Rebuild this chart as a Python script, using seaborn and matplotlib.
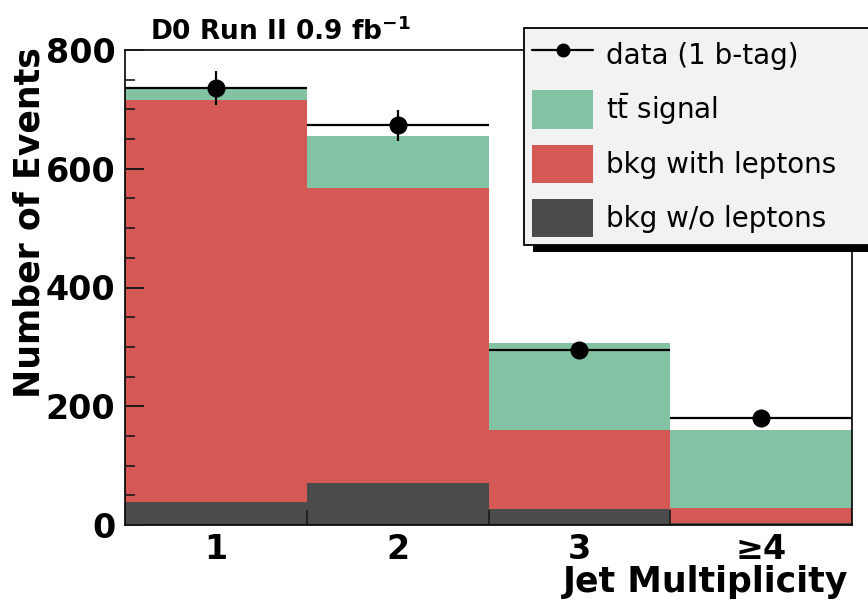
import numpy as np
import pandas as pd
import matplotlib
matplotlib.use("Agg")
import matplotlib.pyplot as plt
from matplotlib.patches import Rectangle, Patch
from matplotlib.lines import Line2D
from matplotlib.ticker import MultipleLocator, FixedLocator
import seaborn as sns

# ---------------- data ----------------
jet_bins = [1, 2, 3, 4]
jet_labels = ["1", "2", "3", "\u22654"]
bkg_wo_leptons = [39, 70, 27, 3]
bkg_with_leptons = [677, 498, 133, 26]
ttbar_signal = [19, 88, 146, 131]
data_counts = [736, 673, 294, 180]
data_err = [28, 26, 14, 12]

comp_names = ["t$\\bar{t}$ signal", "bkg with leptons", "bkg w/o leptons"]
comp_colors = ["#84c2a4", "#d45854", "#4b4b4b"]

# long-form table for seaborn
rows = []
for name, vals in zip(comp_names, [ttbar_signal, bkg_with_leptons, bkg_wo_leptons]):
    for b, v in zip(jet_bins, vals):
        rows.append({"jet": b, "events": v, "component": name})
df = pd.DataFrame(rows)

# ---------------- style ----------------
sns.set_style("white")
plt.rcParams["font.family"] = ["DejaVu Sans"]
plt.rcParams["mathtext.default"] = "regular"
plt.rcParams["text.color"] = "black"
plt.rcParams["axes.labelcolor"] = "black"
plt.rcParams["xtick.color"] = "black"
plt.rcParams["ytick.color"] = "black"

fig = plt.figure(figsize=(8.68, 6.01), dpi=100)
ax = fig.add_axes([125 / 868, 1 - 525 / 601, 727 / 868, 475 / 601])
ax.set_axisbelow(False)

sns.histplot(
    data=df, x="jet", weights="events", hue="component",
    hue_order=comp_names, palette=dict(zip(comp_names, comp_colors)),
    multiple="stack", discrete=True, shrink=1.0, element="bars",
    linewidth=0, alpha=1, legend=False, ax=ax,
)

ax.errorbar(
    jet_bins, data_counts, xerr=0.5, yerr=data_err, fmt="o", color="black",
    markersize=12, elinewidth=1.6, capsize=0, zorder=5,
)

ax.set_xlim(0.5, 4.5)
ax.set_ylim(0, 800)

# ticks
ax.set_xticks(jet_bins)
ax.set_xticklabels(jet_labels)
ax.xaxis.set_minor_locator(FixedLocator([1.5, 2.5, 3.5]))
ax.tick_params(axis="x", which="major", length=0, pad=6, labelsize=24,
               colors="black")
ax.tick_params(axis="x", which="minor", direction="in", length=11, width=1.2,
               bottom=True, top=False, colors="#1a1a1a")
ax.yaxis.set_major_locator(MultipleLocator(200))
ax.yaxis.set_minor_locator(MultipleLocator(50))
ax.tick_params(axis="y", which="major", direction="in", length=14, width=1.4,
               left=True, right=False, pad=7, labelsize=24, colors="#1a1a1a",
               labelcolor="black")
ax.tick_params(axis="y", which="minor", direction="in", length=7, width=1.2,
               left=True, right=False, colors="#1a1a1a")
for lab in ax.get_xticklabels() + ax.get_yticklabels():
    lab.set_fontweight("bold")

for sp in ax.spines.values():
    sp.set_color("black")
    sp.set_linewidth(1.2)

ax.set_ylabel("Number of Events", fontsize=25, fontweight="bold")
ax.yaxis.set_label_coords(-0.108, 0.636)
ax.set_xlabel("Jet Multiplicity", fontsize=25, fontweight="bold", loc="right")
ax.xaxis.set_label_coords(0.995, -0.085)

fig.text(150 / 868, 1 - 18 / 601, "D0 Run II 0.9 fb$^{-1}$", fontsize=19,
         fontweight="bold", ha="left", va="top")

# legend
handles = [Line2D([], [], color="black", marker="o", markersize=9, lw=1.6)]
handles += [Patch(facecolor=c, edgecolor="none") for c in comp_colors]
labels = ["data (1 b-tag)"] + comp_names
leg = fig.legend(
    handles, labels, loc="upper left",
    bbox_to_anchor=(524 / 868, 1 - 28 / 601, (900 - 524) / 868, 0.0),
    bbox_transform=fig.transFigure, mode="expand", borderaxespad=0,
    prop={"size": 20, "weight": "normal"}, handlelength=2.2, handleheight=1.73,
    handletextpad=0.45, labelspacing=0.58, borderpad=0.3,
    fancybox=False, frameon=True, facecolor="#f2f2f2", edgecolor="black",
    framealpha=1,
)
leg.get_frame().set_linewidth(1.3)
leg.set_zorder(6)

fig.canvas.draw()
bb = leg.get_window_extent().transformed(fig.transFigure.inverted())
shadow = Rectangle((bb.x0 + 9 / 868, bb.y0 - 7 / 601), bb.width, bb.height,
                   transform=fig.transFigure, facecolor="black",
                   edgecolor="none", zorder=5)
fig.add_artist(shadow)

fig.savefig("out.png", dpi=100)
